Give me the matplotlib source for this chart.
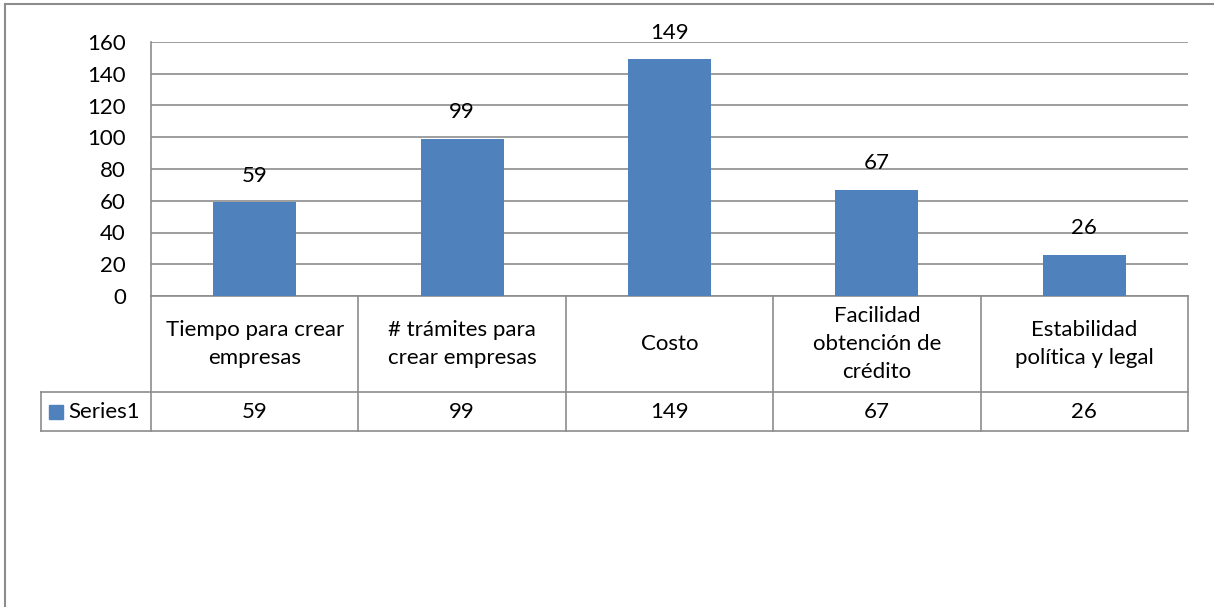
import matplotlib.pyplot as plt
from matplotlib.lines import Line2D

categories = [
    "Tiempo para crear\nempresas",
    "# trámites para\ncrear empresas",
    "Costo",
    "Facilidad\nobtención de\ncrédito",
    "Estabilidad\npolítica y legal",
]
series_name = "Series1"
values = [59, 99, 149, 67, 26]
y_ticks = [0, 20, 40, 60, 80, 100, 120, 140, 160]

BAR_COLOR = "#4F81BD"
LINE_COLOR = "#8c8c8c"
W, H = 1214, 607


def fx(px):
    return px / W


def fy(py):
    return 1 - py / H


plt.rcParams["font.family"] = ["Lato", "DejaVu Sans"]

fig = plt.figure(figsize=(W / 100, H / 100), dpi=100)

# chart area border (left and top only are visible)
fig.add_artist(Line2D([fx(5), fx(5)], [fy(4), 0], color=LINE_COLOR, lw=1.5))
fig.add_artist(Line2D([fx(5), 1], [fy(4), fy(4)], color=LINE_COLOR, lw=1.5))

# plot area
ax = fig.add_axes([fx(151), fy(296), fx(1188) - fx(151), fy(42) - fy(296)])
n = len(values)
ax.bar(range(n), values, width=0.4, color=BAR_COLOR, zorder=3)
for i, v in enumerate(values):
    ax.annotate(str(v), (i, v), xytext=(0, 19), textcoords="offset points",
                ha="center", va="center", fontsize=16)

ax.set_xlim(-0.5, n - 0.5)
ax.set_ylim(0, 160)
ax.set_yticks(y_ticks)
ax.set_xticks([])
ax.yaxis.grid(True, color=LINE_COLOR, lw=1.2)
ax.set_axisbelow(True)
ax.tick_params(axis="y", length=0, pad=18, labelsize=16)
for side in ["top", "right"]:
    ax.spines[side].set_visible(False)
for side in ["left", "bottom"]:
    ax.spines[side].set_color(LINE_COLOR)
    ax.spines[side].set_linewidth(1.2)

# data table under the chart
unit = (1188 - 151) / n
left = -0.5 - (151 - 41) / unit
row_h, head_h = 39, 96
tab = fig.add_axes([fx(41), fy(431), fx(1188) - fx(41), fy(296) - fy(431)])
tab.set_xlim(left, n - 0.5)
tab.set_ylim(0, row_h + head_h)
tab.axis("off")

lk = dict(color=LINE_COLOR, lw=1.2, clip_on=False)
for k in range(n + 1):
    tab.plot([k - 0.5, k - 0.5], [0, row_h + head_h], **lk)
tab.plot([left, left], [0, row_h], **lk)
tab.plot([left, n - 0.5], [0, 0], **lk)
tab.plot([left, n - 0.5], [row_h, row_h], **lk)

for i, (cat, v) in enumerate(zip(categories, values)):
    tab.text(i, row_h + head_h / 2, cat, ha="center", va="center",
             fontsize=16, linespacing=1.5)
    tab.text(i, row_h / 2, str(v), ha="center", va="center", fontsize=16)

tab.plot([left + 15 / unit], [row_h / 2], marker="s", ms=10, color=BAR_COLOR,
         clip_on=False)
tab.text(left + 27 / unit, row_h / 2, series_name, ha="left", va="center",
         fontsize=16)

fig.savefig("out.png", dpi=100)
